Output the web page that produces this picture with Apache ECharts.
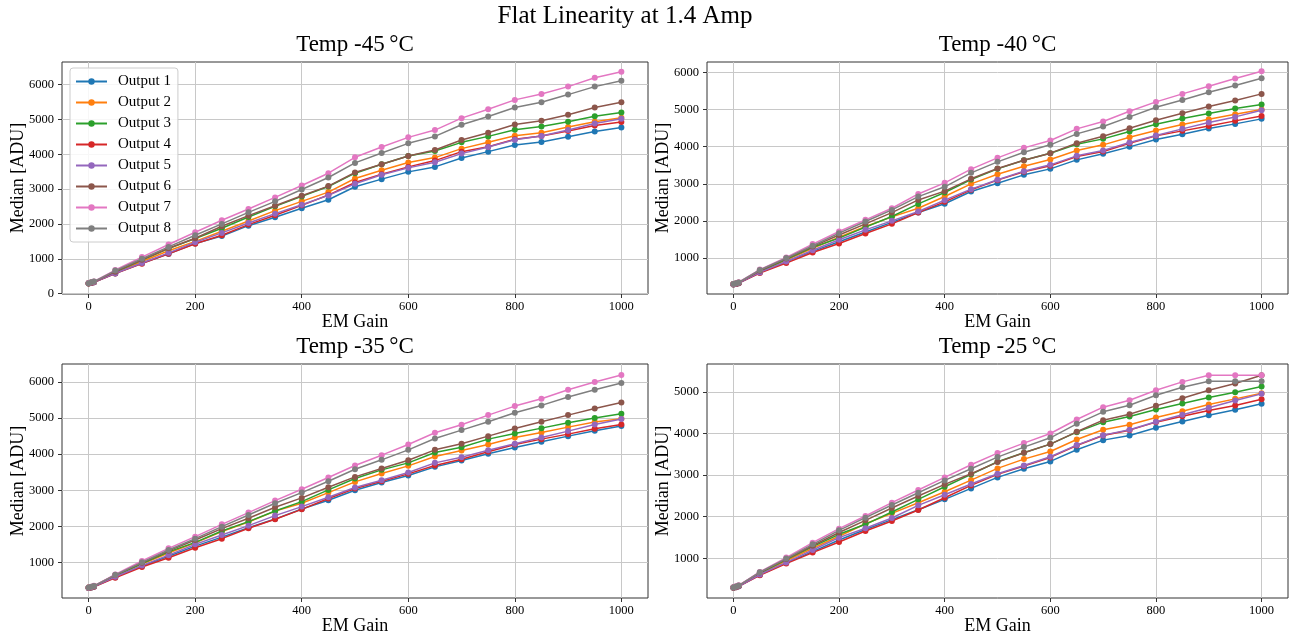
<!DOCTYPE html>
<html>
<head>
<meta charset="utf-8">
<script src="https://cdn.jsdelivr.net/npm/echarts@6/dist/echarts.min.js"></script>
<style>html,body{margin:0;padding:0;background:#fff;}#c{width:1296px;height:636px;}</style>
</head>
<body>
<div id="c"></div>
<script>
// ---------- data ----------
const emGain = [0, 5, 10, 50, 100, 150, 200, 250, 300, 350, 400, 450, 500, 550, 600, 650, 700, 750, 800, 850, 900, 950, 1000];
const outputNames = ['Output 1', 'Output 2', 'Output 3', 'Output 4', 'Output 5', 'Output 6', 'Output 7', 'Output 8'];
const panelTitles = ['Temp -45\u2009°C', 'Temp -40\u2009°C', 'Temp -35\u2009°C', 'Temp -25\u2009°C'];
const xTicks = [0, 200, 400, 600, 800, 1000];
const yTicksA = [0, 1000, 2000, 3000, 4000, 5000, 6000];
const yTicksB = [1000, 2000, 3000, 4000, 5000, 6000];
const yTicksC = [1000, 2000, 3000, 4000, 5000];

// Temp -45 C
const t45_out1 = [290, 305, 325, 580, 870, 1140, 1440, 1650, 1950, 2190, 2448, 2695, 3067, 3286, 3495, 3638, 3895, 4076, 4267, 4352, 4505, 4657, 4771];
const t45_out2 = [300, 315, 335, 600, 920, 1230, 1500, 1790, 2086, 2381, 2648, 2914, 3305, 3543, 3762, 3905, 4162, 4343, 4533, 4619, 4781, 4933, 5048];
const t45_out3 = [295, 312, 335, 620, 960, 1290, 1580, 1876, 2200, 2505, 2790, 3076, 3457, 3714, 3952, 4095, 4343, 4514, 4705, 4800, 4933, 5095, 5200];
const t45_out4 = [290, 305, 325, 575, 860, 1143, 1429, 1676, 1981, 2248, 2533, 2829, 3190, 3429, 3638, 3819, 4076, 4219, 4429, 4524, 4667, 4829, 4924];
const t45_out5 = [295, 308, 328, 585, 880, 1170, 1476, 1743, 2029, 2295, 2552, 2819, 3152, 3410, 3610, 3771, 4019, 4210, 4419, 4524, 4695, 4886, 5019];
const t45_out6 = [300, 318, 340, 630, 970, 1300, 1590, 1933, 2238, 2520, 2810, 3086, 3476, 3714, 3952, 4124, 4410, 4619, 4857, 4962, 5133, 5343, 5495];
const t45_out7 = [305, 325, 350, 676, 1048, 1410, 1762, 2105, 2429, 2762, 3105, 3457, 3914, 4210, 4486, 4695, 5038, 5295, 5562, 5733, 5943, 6200, 6371];
const t45_out8 = [300, 322, 345, 660, 1000, 1340, 1676, 2000, 2333, 2648, 2990, 3333, 3752, 4038, 4314, 4514, 4848, 5086, 5343, 5495, 5714, 5943, 6114];

// Temp -40 C
const t40_out1 = [290, 305, 325, 610, 900, 1180, 1440, 1700, 1960, 2225, 2461, 2792, 3016, 3240, 3401, 3643, 3805, 3993, 4190, 4333, 4486, 4611, 4746];
const t40_out2 = [300, 315, 335, 630, 950, 1260, 1560, 1850, 2110, 2342, 2658, 2998, 3258, 3473, 3652, 3894, 4047, 4253, 4432, 4593, 4737, 4871, 4996];
const t40_out3 = [295, 312, 335, 640, 970, 1290, 1537, 1832, 2118, 2458, 2765, 3115, 3401, 3634, 3823, 4065, 4208, 4405, 4602, 4754, 4889, 5023, 5131];
const t40_out4 = [290, 305, 325, 600, 866, 1152, 1394, 1662, 1921, 2225, 2514, 2837, 3097, 3321, 3482, 3733, 3867, 4091, 4289, 4423, 4557, 4692, 4826];
const t40_out5 = [295, 308, 328, 615, 910, 1210, 1492, 1760, 2002, 2252, 2559, 2855, 3106, 3339, 3509, 3751, 3894, 4109, 4297, 4477, 4647, 4799, 4978];
const t40_out6 = [300, 318, 340, 660, 990, 1310, 1620, 1921, 2225, 2565, 2801, 3133, 3410, 3634, 3823, 4091, 4280, 4495, 4710, 4898, 5077, 5238, 5418];
const t40_out7 = [305, 325, 350, 690, 1018, 1376, 1716, 2029, 2342, 2726, 3025, 3393, 3697, 3966, 4163, 4477, 4674, 4952, 5203, 5418, 5624, 5830, 6027];
const t40_out8 = [300, 322, 345, 680, 1000, 1331, 1671, 1984, 2297, 2655, 2918, 3294, 3590, 3849, 4047, 4342, 4539, 4799, 5059, 5256, 5462, 5642, 5839];

// Temp -35 C
const t35_out1 = [290, 305, 325, 590, 900, 1170, 1450, 1700, 1960, 2200, 2480, 2722, 3000, 3213, 3407, 3648, 3824, 4009, 4185, 4343, 4500, 4648, 4778];
const t35_out2 = [300, 315, 335, 620, 950, 1260, 1540, 1855, 2120, 2420, 2639, 2935, 3231, 3463, 3676, 3935, 4102, 4269, 4463, 4602, 4750, 4889, 4981];
const t35_out3 = [295, 312, 335, 630, 970, 1290, 1555, 1870, 2130, 2426, 2685, 3009, 3324, 3565, 3759, 4046, 4194, 4417, 4574, 4722, 4870, 5000, 5120];
const t35_out4 = [290, 305, 325, 574, 870, 1130, 1407, 1657, 1944, 2194, 2470, 2769, 3046, 3250, 3454, 3685, 3861, 4065, 4269, 4417, 4556, 4704, 4824];
const t35_out5 = [295, 308, 328, 600, 910, 1200, 1500, 1759, 2018, 2296, 2546, 2806, 3074, 3278, 3491, 3759, 3917, 4111, 4287, 4463, 4639, 4824, 4972];
const t35_out6 = [300, 318, 340, 650, 990, 1320, 1620, 1935, 2222, 2528, 2787, 3083, 3370, 3602, 3833, 4120, 4287, 4500, 4713, 4898, 5083, 5269, 5435];
const t35_out7 = [305, 325, 350, 667, 1037, 1389, 1713, 2055, 2380, 2713, 3028, 3352, 3685, 3972, 4269, 4593, 4815, 5083, 5333, 5537, 5787, 6000, 6194];
const t35_out8 = [300, 322, 345, 655, 1000, 1343, 1657, 1990, 2315, 2639, 2935, 3250, 3583, 3843, 4120, 4435, 4667, 4898, 5148, 5352, 5583, 5787, 5972];

// Temp -25 C
const t25_out1 = [290, 305, 325, 600, 890, 1160, 1440, 1690, 1930, 2165, 2416, 2680, 2944, 3152, 3328, 3608, 3840, 3952, 4136, 4288, 4440, 4568, 4712];
const t25_out2 = [300, 315, 335, 625, 940, 1240, 1530, 1830, 2080, 2336, 2600, 2880, 3160, 3384, 3568, 3856, 4088, 4208, 4384, 4536, 4696, 4832, 4968];
const t25_out3 = [295, 312, 335, 640, 970, 1280, 1576, 1816, 2112, 2416, 2720, 3016, 3320, 3536, 3744, 4032, 4272, 4408, 4576, 4720, 4864, 4992, 5128];
const t25_out4 = [290, 305, 325, 592, 872, 1136, 1392, 1656, 1896, 2160, 2456, 2752, 3016, 3216, 3424, 3712, 3952, 4080, 4272, 4416, 4552, 4672, 4824];
const t25_out5 = [295, 308, 328, 610, 900, 1200, 1496, 1720, 1968, 2272, 2528, 2784, 3032, 3232, 3440, 3720, 3960, 4088, 4280, 4448, 4616, 4792, 4952];
const t25_out6 = [300, 318, 340, 655, 980, 1300, 1620, 1912, 2208, 2496, 2776, 3032, 3312, 3536, 3744, 4040, 4320, 4464, 4664, 4848, 5040, 5200, 5400];
const t25_out7 = [305, 325, 350, 672, 1016, 1376, 1712, 2016, 2336, 2640, 2944, 3248, 3528, 3768, 4000, 4336, 4632, 4800, 5040, 5240, 5400, 5400, 5400];
const t25_out8 = [300, 322, 345, 665, 992, 1336, 1672, 1976, 2280, 2576, 2872, 3152, 3432, 3672, 3896, 4232, 4520, 4680, 4920, 5112, 5256, 5256, 5256];

// ---------- build ----------
const panels = [
  [t45_out1, t45_out2, t45_out3, t45_out4, t45_out5, t45_out6, t45_out7, t45_out8],
  [t40_out1, t40_out2, t40_out3, t40_out4, t40_out5, t40_out6, t40_out7, t40_out8],
  [t35_out1, t35_out2, t35_out3, t35_out4, t35_out5, t35_out6, t35_out7, t35_out8],
  [t25_out1, t25_out2, t25_out3, t25_out4, t25_out5, t25_out6, t25_out7, t25_out8]
];
const colors = ['#1f77b4', '#ff7f0e', '#2ca02c', '#d62728', '#9467bd', '#8c564b', '#e377c2', '#7f7f7f'];
const FONT = 'Liberation Serif';
const grids = [
  {left: 62, top: 62, width: 586, height: 232},
  {left: 707, top: 62, width: 581, height: 232},
  {left: 62, top: 364, width: 586, height: 234},
  {left: 707, top: 364, width: 581, height: 234}
];
const yRanges = [[-12, 6650], [34, 6276], [12, 6500], [45, 5670]];
const yTickSets = [yTicksA, yTicksB, yTicksB, yTicksC];
const plain = v => String(Math.round(v));

const xAxes = [], yAxes = [], series = [], titles = [];
titles.push({text: 'Flat Linearity at 1.4 Amp', left: 625, top: 4, textAlign: 'center', padding: 0,
  textStyle: {fontFamily: FONT, fontSize: 25, fontWeight: 'normal', color: '#000'}});
grids.forEach((g, i) => {
  g.show = true; g.borderColor = '#333'; g.borderWidth = 1; g.backgroundColor = '#fff';
  titles.push({text: panelTitles[i], left: g.left + g.width / 2, top: g.top - 29, textAlign: 'center', padding: 0,
    textStyle: {fontFamily: FONT, fontSize: 23, fontWeight: 'normal', color: '#000'}});
  xAxes.push({
    type: 'value', gridIndex: i, min: -50, max: 1050, position: 'bottom',
    name: 'EM Gain', nameLocation: 'middle', nameGap: 19, nameMoveOverlap: false,
    nameTextStyle: {fontFamily: FONT, fontSize: 18, color: '#000'},
    axisLine: {show: false, onZero: false},
    axisTick: {show: true, inside: false, length: 4, customValues: xTicks, lineStyle: {color: '#333'}},
    axisLabel: {customValues: xTicks, formatter: plain, fontFamily: FONT, fontSize: 12.5, color: '#000', margin: 6},
    splitLine: {show: true, lineStyle: {color: '#c8c8c8', width: 1}}
  });
  yAxes.push({
    type: 'value', gridIndex: i, min: yRanges[i][0], max: yRanges[i][1], position: 'left',
    name: 'Median [ADU]', nameLocation: 'middle', nameGap: 35, nameMoveOverlap: false,
    nameTextStyle: {fontFamily: FONT, fontSize: 18, color: '#000'},
    axisLine: {show: false, onZero: false},
    axisTick: {show: true, inside: false, length: 4, customValues: yTickSets[i], lineStyle: {color: '#333'}},
    axisLabel: {customValues: yTickSets[i], formatter: plain, fontFamily: FONT, fontSize: 12.5, color: '#000', margin: 8},
    splitLine: {show: true, lineStyle: {color: '#c8c8c8', width: 1}}
  });
  panels[i].forEach((vals, k) => {
    series.push({
      type: 'line', name: outputNames[k], xAxisIndex: i, yAxisIndex: i,
      data: emGain.map((x, j) => [x, vals[j]]),
      symbol: 'circle', symbolSize: 6, showSymbol: true,
      itemStyle: {color: colors[k]}, lineStyle: {color: colors[k], width: 1.5},
      animation: false, z: 2 + k
    });
  });
});

const chart = echarts.init(document.getElementById('c'), null, {renderer: 'canvas'});
chart.setOption({
  animation: false,
  color: colors,
  title: titles,
  grid: grids,
  xAxis: xAxes,
  yAxis: yAxes,
  legend: {
    data: outputNames, orient: 'vertical', left: 70, top: 68,
    padding: [5, 7, 5, 5], itemGap: 4, itemWidth: 31, itemHeight: 8,
    backgroundColor: 'rgba(255,255,255,0.85)', borderColor: '#ccc', borderWidth: 1, borderRadius: 3,
    textStyle: {fontFamily: FONT, fontSize: 15, lineHeight: 17, color: '#000', padding: [0, 0, 0, 6]}
  },
  series: series
});
</script>
</body>
</html>
